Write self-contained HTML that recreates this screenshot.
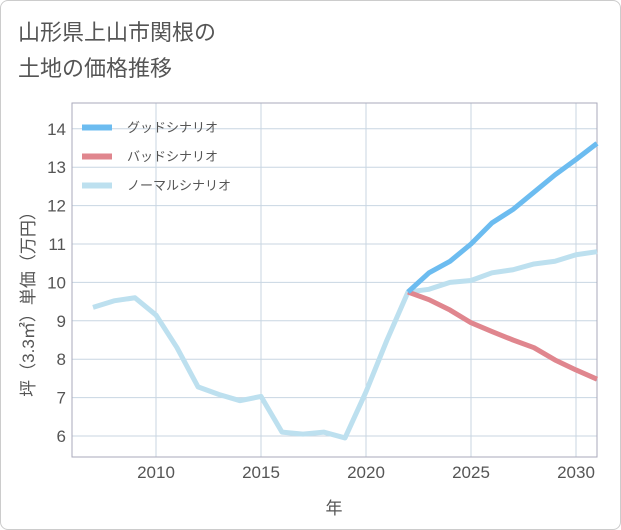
<!DOCTYPE html>
<html><head><meta charset="utf-8"><style>
body{margin:0;background:#fff;}
#card{position:absolute;left:0;top:0;width:619px;height:528px;border:1px solid #ccc;border-radius:8px;background:#fff;font-family:"Liberation Sans","Noto Sans CJK JP",sans-serif;}
</style></head><body>
<div id="card">
<svg id="chart" width="621" height="530" style="position:absolute;left:-1px;top:-1px">
<text x="18" y="40" font-size="22" fill="#555" font-family="Liberation Sans,Noto Sans CJK JP,sans-serif">山形県上山市関根の</text>
<text x="18" y="76" font-size="22" fill="#555" font-family="Liberation Sans,Noto Sans CJK JP,sans-serif">土地の価格推移</text>
<g id="plot"></g>
</svg>
</div>
<script>
const years=[2007,2008,2009,2010,2011,2012,2013,2014,2015,2016,2017,2018,2019,2020,2021,2022,2023,2024,2025,2026,2027,2028,2029,2030,2031];
const normal=[9.35,9.52,9.6,9.15,8.3,7.28,7.08,6.92,7.03,6.1,6.05,6.1,5.95,7.15,8.5,9.75,9.82,10.0,10.05,10.25,10.33,10.48,10.55,10.72,10.8];
const goodYears=[2022,2023,2024,2025,2026,2027,2028,2029,2030,2031];
const good=[9.75,10.25,10.55,11.0,11.55,11.9,12.35,12.8,13.2,13.62];
const bad=[9.75,9.55,9.28,8.95,8.72,8.5,8.3,7.98,7.72,7.48];
const xTicks=[2010,2015,2020,2025,2030];
const yTicks=[6,7,8,9,10,11,12,13,14];
const L=72,R=597,T=103,B=457;
const X=y=>L+(y-2006)*(R-L)/25;
const Y=v=>436-(v-6)*38.4;
const NS="http://www.w3.org/2000/svg";
const g=document.getElementById('plot');
function mk(t,a){const e=document.createElementNS(NS,t);for(const k in a)e.setAttribute(k,a[k]);g.appendChild(e);return e;}
yTicks.forEach(v=>{
const l=mk('line',{x1:L,x2:R,y1:Y(v),y2:Y(v),stroke:'#c8d6e2','stroke-width':1});


const t=mk('text',{x:L-6,y:Y(v)+6,'text-anchor':'end','font-size':17,fill:'#555'});t.textContent=v;


});
xTicks.forEach(v=>{
const l=mk('line',{x1:X(v),x2:X(v),y1:T,y2:B,stroke:'#c8d6e2','stroke-width':1});


const t=mk('text',{x:X(v),y:B+21,'text-anchor':'middle','font-size':17,fill:'#555'});t.textContent=v;


});
const fr=mk('rect',{x:L,y:T,width:R-L,height:B-T,fill:'none',stroke:'#aab','stroke-width':1});


function line(xs,vs,c,name){const p=mk('polyline',{points:xs.map((y,i)=>X(y)+','+Y(vs[i])).join(' '),fill:'none',stroke:c,'stroke-width':5,'stroke-linejoin':'round'});

}
line(years,normal,'#bde0ef','normal-scenario-line');
line(goodYears,bad,'#e0868e','bad-scenario-line');
line(goodYears,good,'#6cbcf0','good-scenario-line');
const leg=[['グッドシナリオ','#6cbcf0'],['バッドシナリオ','#e0868e'],['ノーマルシナリオ','#bde0ef']];
leg.forEach((d,i)=>{const y=127+i*29;
const r=mk('rect',{x:82,y:y-2.5,width:30,height:6,fill:d[1]});


const t=mk('text',{x:127,y:y+5,'font-size':13,fill:'#555'});t.textContent=d[0];

});
const xt=mk('text',{x:334,y:514,'text-anchor':'middle','font-size':17,fill:'#555'});xt.textContent='年';


const yt=mk('text',{x:0,y:0,'text-anchor':'middle','font-size':17,fill:'#555',transform:'translate(34,300) rotate(-90)'});yt.textContent='坪（3.3㎡）単価（万円）';


</script>
</body></html>
